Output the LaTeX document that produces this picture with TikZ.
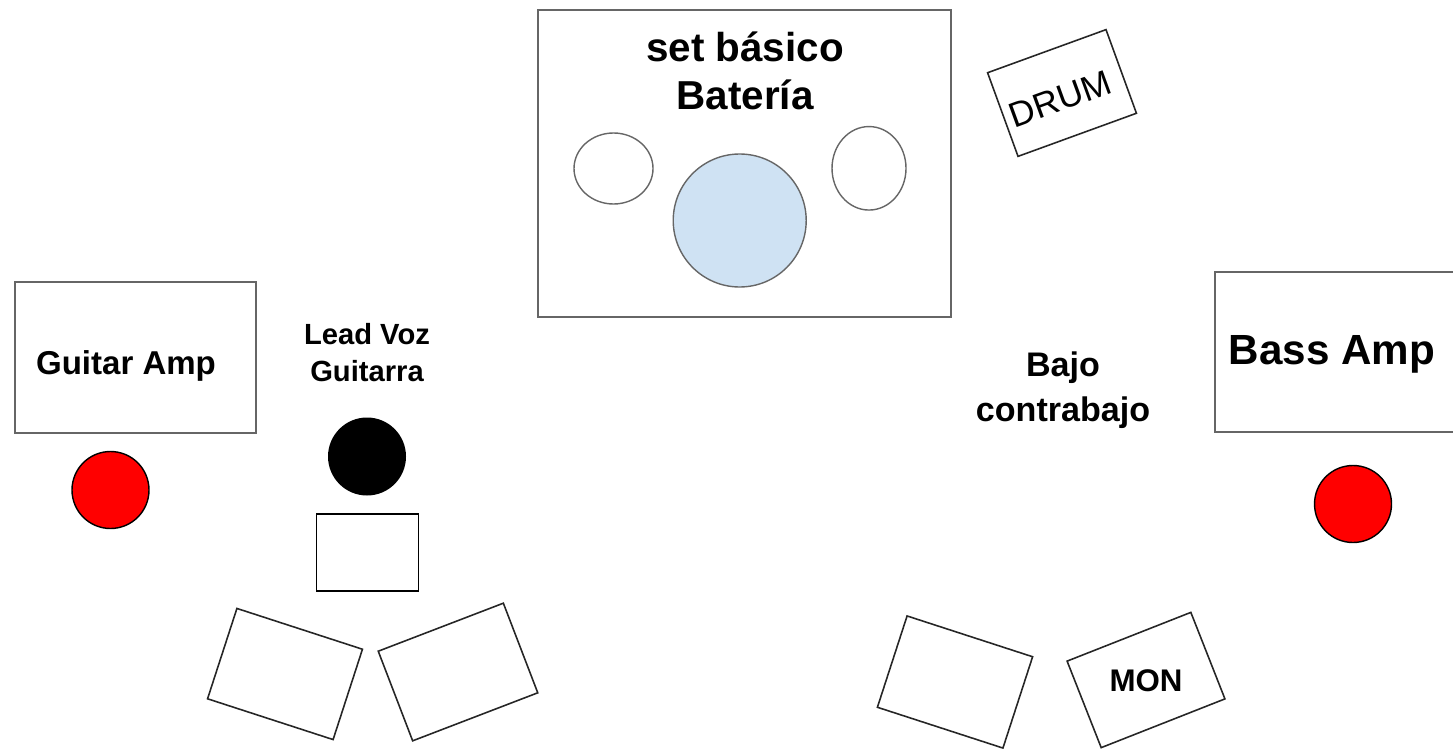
\documentclass[tikz,border=0pt]{standalone}
\usepackage{fontspec}
\setmainfont{Liberation Sans}
\usepackage{tikz}
\usetikzlibrary{positioning,calc,shapes.geometric}
\definecolor{edgegray}{HTML}{666666}
\definecolor{kickblue}{HTML}{CFE2F3}

\begin{document}
\begin{tikzpicture}
        \tikzstyle{amp}=[rectangle, draw=edgegray, line width=0.4pt, inner sep=0pt]
        \tikzstyle{wedge}=[rectangle, draw=black!85, line width=0.45pt, inner sep=0pt]
        \tikzstyle{spk}=[circle, draw=black, fill=red, line width=0.4pt, inner sep=0pt, minimum size=0.77cm]
        \tikzstyle{lbl}=[align=center, font=\bfseries]

        \useasboundingbox (0,0) rectangle (14.53,-7.48);

        % bateria
        \node[amp, minimum width=4.13cm, minimum height=3.07cm] (kit) at (7.445,-1.635) {};
        \node[lbl, font=\bfseries\fontsize{11.5}{13.6}\selectfont] (kittxt) at (7.45,-0.71) {set básico\\Batería};
        \node[ellipse, draw=edgegray, inner sep=0pt, minimum width=0.79cm, minimum height=0.71cm] (hat) at (6.135,-1.685) {};
        \node[circle, draw=edgegray, fill=kickblue, inner sep=0pt, minimum size=1.33cm] (kick) at (7.397,-2.205) {};
        \node[ellipse, draw=edgegray, inner sep=0pt, minimum width=0.74cm, minimum height=0.835cm] (ride) at (8.69,-1.683) {};
        \node[wedge, rotate=20, minimum width=1.26cm, minimum height=0.89cm] (drum) at (10.62,-0.93) {};
        \node[rotate=20, inner sep=0pt, font=\fontsize{10}{12}\selectfont] (drumtxt) at (10.60,-0.99) {DRUM};

        % guitarra
        \node[amp, minimum width=2.41cm, minimum height=1.51cm] (gamp) at (1.355,-3.575) {};
        \node[lbl, font=\bfseries\fontsize{9.4}{11}\selectfont] (gamptxt) at (1.26,-3.66) {Guitar Amp};
        \node[spk] (gspk) at (1.105,-4.9) {};
        \node[lbl, font=\bfseries\fontsize{8.3}{10.5}\selectfont] (lead) at (3.67,-3.53) {Lead Voz\\Guitarra};
        \node[circle, fill=black, inner sep=0pt, minimum size=0.78cm] (voz) at (3.67,-4.565) {};
        \node[rectangle, draw=black, line width=0.45pt, inner sep=0pt, minimum width=1.02cm, minimum height=0.77cm] (pedal) at (3.675,-5.525) {};
        \node[wedge, rotate=-18, minimum width=1.32cm, minimum height=0.95cm] (monA) at (2.85,-6.74) {};
        \node[wedge, rotate=21, minimum width=1.34cm, minimum height=0.96cm] (monB) at (4.58,-6.72) {};

        % bajo
        \draw[draw=edgegray, line width=0.4pt] (14.6,-2.72) -- (12.15,-2.72) -- (12.15,-4.32) -- (14.6,-4.32);
        \node[lbl, font=\bfseries\fontsize{12}{14}\selectfont] (bamptxt) at (13.32,-3.54) {Bass Amp};
        \node[spk] (bspk) at (13.53,-5.04) {};
        \node[lbl, font=\bfseries\fontsize{9.7}{12.8}\selectfont] (bajo) at (10.63,-3.90) {Bajo\\contrabajo};
        \node[wedge, rotate=-18, minimum width=1.32cm, minimum height=0.96cm] (monC) at (9.55,-6.82) {};
        \node[wedge, rotate=21.5, minimum width=1.33cm, minimum height=0.93cm] (monD) at (11.46,-6.80) {};
        \node[lbl, font=\bfseries\fontsize{8.9}{11}\selectfont] (montxt) at (11.46,-6.81) {MON};
    \end{tikzpicture}
\end{document}
